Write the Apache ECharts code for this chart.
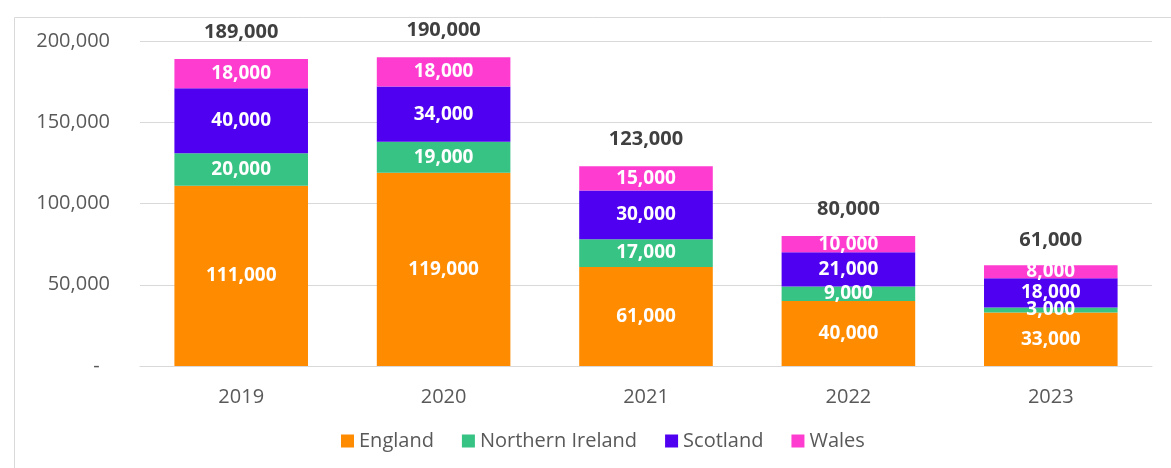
<!DOCTYPE html>
<html>
<head>
<meta charset="utf-8">
<script src="https://cdn.jsdelivr.net/npm/echarts@6/dist/echarts.min.js"></script>
<style>
  html, body { margin: 0; padding: 0; background: #fff; }
  #chart { width: 1171px; height: 468px; }
</style>
</head>
<body>
<div id="chart"></div>
<script>
const years = ["2019", "2020", "2021", "2022", "2023"];
const england = [111000, 119000, 61000, 40000, 33000];
const northernIreland = [20000, 19000, 17000, 9000, 3000];
const scotland = [40000, 34000, 30000, 21000, 18000];
const wales = [18000, 18000, 15000, 10000, 8000];
const totals = [189000, 190000, 123000, 80000, 61000];

const colors = ["#FF8B00", "#36C383", "#5000F0", "#FF3CD0"];
const font = "'Open Sans', sans-serif";

const fmt = v => v.toLocaleString("en-GB");

function segment(name, data, color) {
  return {
    name, type: "bar", stack: "all", data, barWidth: "66%",
    itemStyle: { color },
    label: {
      show: true, position: "inside", color: "#fff",
      fontFamily: font, fontWeight: "bold", fontSize: 19,
      formatter: p => fmt(p.value)
    }
  };
}

const chart = echarts.init(document.getElementById("chart"));
chart.setOption({
  animation: false,
  textStyle: { fontFamily: font },
  graphic: [{
    type: "rect", left: 12, top: 15,
    shape: { width: 1200, height: 500 },
    style: { fill: "none", stroke: "#d9d9d9", lineWidth: 1 }
  }],
  grid: { left: 140, right: 19, top: 41, bottom: 102 },
  legend: {
    bottom: 12, left: 336, itemWidth: 13, itemHeight: 13, itemGap: 28,
    icon: "rect",
    data: ["England", "Northern Ireland", "Scotland", "Wales"],
    textStyle: { color: "#595959", fontSize: 20, fontFamily: font }
  },
  xAxis: {
    type: "category", data: years,
    axisLine: { lineStyle: { color: "#d9d9d9" } },
    axisTick: { show: false },
    axisLabel: { color: "#595959", fontSize: 20, margin: 21 }
  },
  yAxis: {
    type: "value", min: 0, max: 200000, interval: 50000,
    axisLine: { show: false }, axisTick: { show: false },
    splitLine: { lineStyle: { color: "#d9d9d9" } },
    axisLabel: {
      color: "#595959", fontSize: 20, margin: 30,
      formatter: v => v === 0 ? "-  " : fmt(v)
    }
  },
  series: [
    segment("England", england, colors[0]),
    segment("Northern Ireland", northernIreland, colors[1]),
    segment("Scotland", scotland, colors[2]),
    segment("Wales", wales, colors[3]),
    {
      name: "Total", type: "line", data: totals,
      symbol: "circle", symbolSize: 1, showSymbol: true,
      itemStyle: { color: "rgba(0,0,0,0)" },
      lineStyle: { width: 0, opacity: 0 },
      label: {
        show: true, position: "top", distance: 16,
        color: "#404040", fontWeight: "bold", fontSize: 20,
        fontFamily: font,
        formatter: p => fmt(p.value)
      },
      tooltip: { show: false }
    }
  ]
});
</script>
</body>
</html>
